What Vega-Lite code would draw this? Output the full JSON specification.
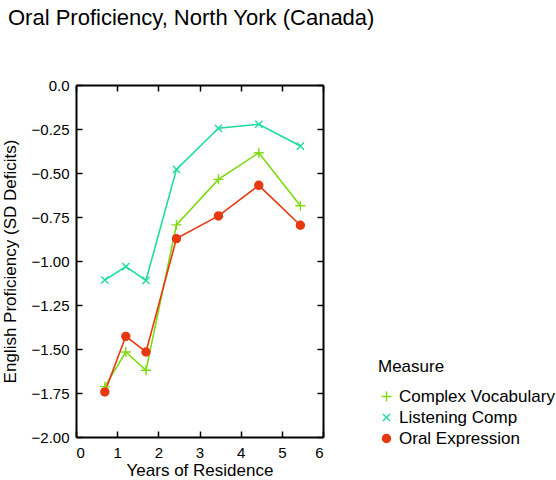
{
  "$schema": "https://vega.github.io/schema/vega-lite/v6.json",
  "autosize": "none",
  "width": 247,
  "height": 352,
  "padding": {"left": 76, "top": 85, "right": 233, "bottom": 43},
  "title": {"text": "Oral Proficiency, North York (Canada)", "anchor": "start", "frame": "group", "dx": -68, "offset": 48, "fontSize": 22, "fontWeight": "normal", "font": "Liberation Sans", "color": "#000000"},
  "config": {
    "font": "Liberation Sans",
    "view": {"stroke": null},
    "axis": {"domainColor": "#000000", "domainWidth": 2, "tickColor": "#000000", "tickWidth": 1.5, "grid": false, "labelFont": "Liberation Sans", "labelFontSize": 15, "labelColor": "#000000", "titleFont": "Liberation Sans", "titleFontSize": 17, "titleFontWeight": "normal", "titleColor": "#000000"},
    "legend": {"titleFontSize": 17, "titleFontWeight": "normal", "titleFont": "Liberation Sans", "titleColor": "#000000", "labelFontSize": 17, "labelFont": "Liberation Sans", "labelColor": "#000000"}
  },
  "data": {"values": [
    {"years": 0.70, "value": -1.714, "measure": "Complex Vocabulary"},
    {"years": 1.21, "value": -1.517, "measure": "Complex Vocabulary"},
    {"years": 1.70, "value": -1.621, "measure": "Complex Vocabulary"},
    {"years": 2.44, "value": -0.795, "measure": "Complex Vocabulary"},
    {"years": 3.46, "value": -0.536, "measure": "Complex Vocabulary"},
    {"years": 4.44, "value": -0.385, "measure": "Complex Vocabulary"},
    {"years": 5.45, "value": -0.686, "measure": "Complex Vocabulary"},
    {"years": 0.70, "value": -1.108, "measure": "Listening Comp"},
    {"years": 1.21, "value": -1.032, "measure": "Listening Comp"},
    {"years": 1.70, "value": -1.110, "measure": "Listening Comp"},
    {"years": 2.44, "value": -0.479, "measure": "Listening Comp"},
    {"years": 3.46, "value": -0.246, "measure": "Listening Comp"},
    {"years": 4.44, "value": -0.223, "measure": "Listening Comp"},
    {"years": 5.45, "value": -0.347, "measure": "Listening Comp"},
    {"years": 0.70, "value": -1.744, "measure": "Oral Expression"},
    {"years": 1.21, "value": -1.428, "measure": "Oral Expression"},
    {"years": 1.70, "value": -1.517, "measure": "Oral Expression"},
    {"years": 2.44, "value": -0.873, "measure": "Oral Expression"},
    {"years": 3.46, "value": -0.744, "measure": "Oral Expression"},
    {"years": 4.44, "value": -0.570, "measure": "Oral Expression"},
    {"years": 5.45, "value": -0.797, "measure": "Oral Expression"}
  ]},
  "resolve": {"axis": {"x": "independent", "y": "independent"}},
  "layer": [
    {
      "mark": {"type": "line", "strokeWidth": 1.6},
      "encoding": {
        "x": {"field": "years", "type": "quantitative", "scale": {"domain": [0, 6], "nice": false}, "axis": {"title": "Years of Residence", "values": [0,1,2,3,4,5,6], "tickSize": -6, "labelPadding": 14, "titlePadding": 2}},
        "y": {"field": "value", "type": "quantitative", "scale": {"domain": [-2, 0], "nice": false, "zero": false}, "axis": {"title": "English Proficiency (SD Deficits)", "values": [-2,-1.75,-1.5,-1.25,-1,-0.75,-0.5,-0.25,0], "labelExpr": "datum.value == 0 ? '0.0' : format(datum.value, '.2f')", "tickSize": -6, "labelPadding": 13, "titlePadding": 12}},
        "color": {"field": "measure", "type": "nominal", "scale": {"domain": ["Complex Vocabulary", "Listening Comp", "Oral Expression"], "range": ["#7ed90f", "#1fdb9f", "#e8380f"]}, "legend": {"title": "Measure", "orient": "none", "legendX": 302, "legendY": 274, "titlePadding": 12, "symbolSize": 64, "rowPadding": 3, "labelOffset": 4, "encode": {"symbols": {"update": {"stroke": {"scale": "color", "field": "value"}, "strokeWidth": {"value": 1.4}}}}}}
      }
    },
    {
      "mark": {"type": "point", "filled": true, "size": 64, "strokeWidth": 1.4, "opacity": 1},
      "encoding": {
        "x": {"field": "years", "type": "quantitative", "axis": {"orient": "top", "title": null, "labels": false, "values": [0,1,2,3,4,5,6], "tickSize": -6}},
        "y": {"field": "value", "type": "quantitative", "axis": {"orient": "right", "title": null, "labels": false, "values": [-2,-1.75,-1.5,-1.25,-1,-0.75,-0.5,-0.25,0], "tickSize": -6}},
        "color": {"field": "measure", "type": "nominal", "legend": {"title": "Measure", "orient": "none", "legendX": 302, "legendY": 274, "titlePadding": 12, "symbolSize": 64, "rowPadding": 3, "labelOffset": 4, "encode": {"symbols": {"update": {"stroke": {"scale": "color", "field": "value"}, "strokeWidth": {"value": 1.4}}}}}},
        "stroke": {"field": "measure", "type": "nominal", "scale": {"domain": ["Complex Vocabulary", "Listening Comp", "Oral Expression"], "range": ["#7ed90f", "#1fdb9f", "#e8380f"]}, "legend": null},
        "shape": {"field": "measure", "type": "nominal", "scale": {"domain": ["Complex Vocabulary", "Listening Comp", "Oral Expression"], "range": ["M-1.25,0L1.25,0M0,-1.25L0,1.25", "M-0.9,-0.9L0.9,0.9M-0.9,0.9L0.9,-0.9", "circle"]}, "legend": {"title": "Measure", "orient": "none", "legendX": 302, "legendY": 274}}
      }
    }
  ]
}
